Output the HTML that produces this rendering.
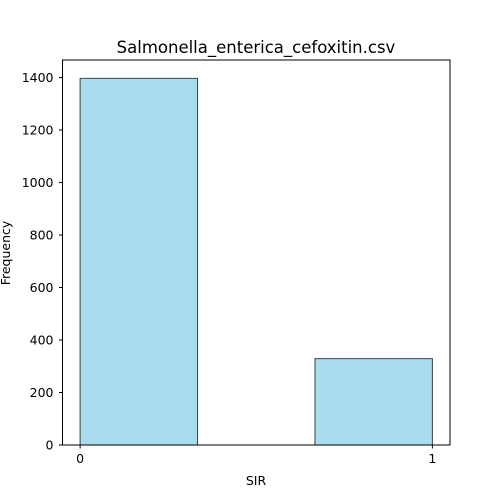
<!DOCTYPE html>
<html><head><meta charset="utf-8"><style>
body{margin:0;background:#fff;overflow:hidden;}
svg{display:block;}
svg text{font-family:"DejaVu Sans","Liberation Sans",sans-serif;fill:#000;}
</style></head><body>
<svg id="chart" width="500" height="500" viewBox="0 0 500 500">
<rect width="500" height="500" fill="#fff"/>
<text x="256" y="53" font-size="16.5" text-anchor="middle">Salmonella_enterica_cefoxitin.csv</text>
<g id="bars"></g>
<g id="yticks"></g>
<g id="xticks"></g>
<rect x="62.5" y="60" width="387.5" height="385" fill="none" stroke="#000" stroke-width="1"/>
<text x="256" y="485" font-size="12.5" text-anchor="middle">SIR</text>
<text transform="translate(10,253) rotate(-90)" font-size="12.5" text-anchor="middle">Frequency</text>
</svg>
<script>
const binStarts = [0, 0.6667];
const binEnds = [0.3333, 1];
const counts = [1397, 329];
const yTicks = [0, 200, 400, 600, 800, 1000, 1200, 1400];
const xTicks = [0, 1];
const L=62.5,R=450,T=60,B=445;
const xMin=-0.05,xMax=1.05,yMax=1466.9;
const sx=v=>L+(v-xMin)/(xMax-xMin)*(R-L);
const sy=v=>B-v/yMax*(B-T);
const NS='http://www.w3.org/2000/svg';
const bars=document.getElementById('bars');
counts.forEach((c,i)=>{
  const r=document.createElementNS(NS,'rect');
  r.setAttribute('x',sx(binStarts[i]));r.setAttribute('y',sy(c));
  r.setAttribute('width',sx(binEnds[i])-sx(binStarts[i]));r.setAttribute('height',B-sy(c));
  r.setAttribute('fill','#a9dcee');r.setAttribute('stroke','#404040');r.setAttribute('stroke-width','1');
  
  
  bars.appendChild(r);
});
const yg=document.getElementById('yticks');
yTicks.forEach(v=>{
  const y=sy(v);
  const l=document.createElementNS(NS,'line');
  l.setAttribute('x1',L-3.5);l.setAttribute('x2',L);l.setAttribute('y1',y);l.setAttribute('y2',y);l.setAttribute('stroke','#000');
  
  
  yg.appendChild(l);
  const t=document.createElementNS(NS,'text');
  t.setAttribute('x',L-9);t.setAttribute('y',y+4.5);t.setAttribute('font-size','12.5');t.setAttribute('text-anchor','end');
  t.textContent=v;
  
  
  yg.appendChild(t);
});
const xg=document.getElementById('xticks');
xTicks.forEach(v=>{
  const x=sx(v);
  const l=document.createElementNS(NS,'line');
  l.setAttribute('x1',x);l.setAttribute('x2',x);l.setAttribute('y1',B);l.setAttribute('y2',B+3.5);l.setAttribute('stroke','#000');
  
  
  xg.appendChild(l);
  const t=document.createElementNS(NS,'text');
  t.setAttribute('x',x);t.setAttribute('y',B+18);t.setAttribute('font-size','12.5');t.setAttribute('text-anchor','middle');
  t.textContent=v;
  
  
  xg.appendChild(t);
});
</script>
</body></html>
